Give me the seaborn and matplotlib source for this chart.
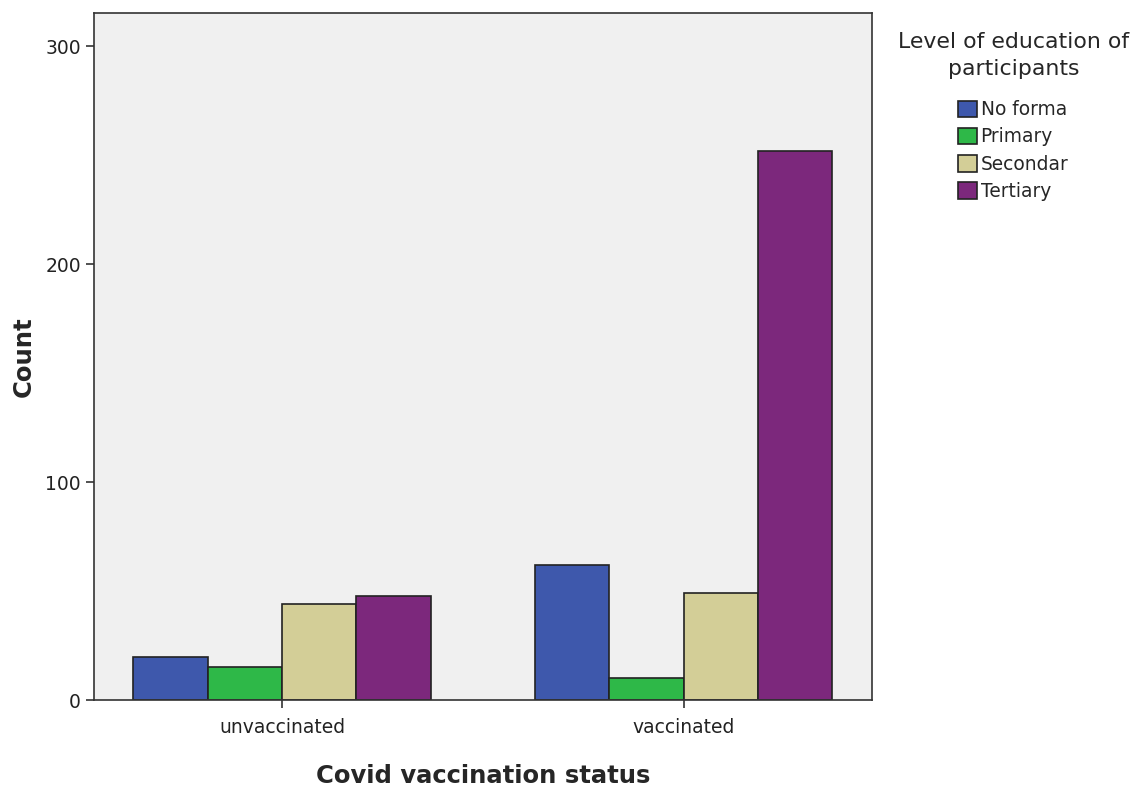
import pandas as pd
import seaborn as sns
from matplotlib import pyplot as plt

# dados
status = ['unvaccinated', 'vaccinated']
niveis = ['No forma', 'Primary', 'Secondar', 'Tertiary']
contagem_unvacc = [20, 15, 44, 48]
contagem_vacc = [62, 10, 49, 252]
cores = ['#3e58ac', '#2eb848', '#d3ce97', '#7c287c']

linhas = []
for i, n in enumerate(niveis):
    linhas.append({'status': status[0], 'nivel': n, 'Count': contagem_unvacc[i]})
    linhas.append({'status': status[1], 'nivel': n, 'Count': contagem_vacc[i]})
df = pd.DataFrame(linhas)

sns.set_style('ticks')
plt.rcParams['font.family'] = ['DejaVu Sans']

fig = plt.figure(figsize=(11.32, 7.92), dpi=100)
ax = fig.add_axes([0.083, 0.116, 0.687, 0.868])
ax.set_facecolor('#f0f0f0')

sns.barplot(data=df, x='status', y='Count', hue='nivel', hue_order=niveis,
            order=status, palette=cores, width=0.74, edgecolor='#222222',
            linewidth=1.2, saturation=1, ax=ax)

ax.set_xlim(-0.468, 1.468)
ax.set_ylim(0, 315.5)
ax.set_yticks([0, 100, 200, 300])
ax.tick_params(axis='both', labelsize=13.5, length=6, width=1.2, color='#333333',
               labelcolor='#222222')
ax.tick_params(axis='x', pad=7)
for s in ax.spines.values():
    s.set_color('#333333')
    s.set_linewidth(1.2)

ax.set_xlabel('Covid vaccination status', fontsize=17.5, fontweight='bold', labelpad=19)
ax.set_ylabel('Count', fontsize=17.5, fontweight='bold', labelpad=7)

leg = ax.legend(title='Level of education of\nparticipants', loc='upper left',
                bbox_to_anchor=(1.012, 0.996), frameon=False, fontsize=13.4,
                title_fontsize=15.8, handlelength=1.0, handleheight=1.0,
                handletextpad=0.2, labelspacing=0.44)
leg.get_title().set_multialignment('center')
leg.get_title().set_linespacing(1.45)
leg._legend_box.sep = 15
for h in leg.legend_handles:
    h.set_edgecolor('#222222')

fig.savefig('out.png', dpi=100)
